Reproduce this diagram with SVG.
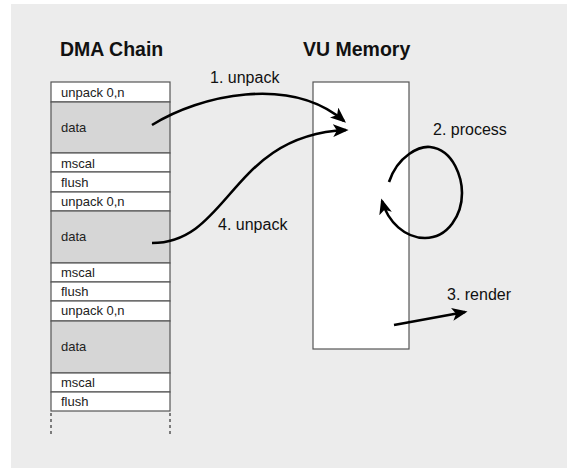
<svg xmlns="http://www.w3.org/2000/svg" width="567" height="468" viewBox="0 0 567 468">
<defs>
<style>
.cell{stroke:#555;stroke-width:1.2}
.w{fill:#fff}
.g{fill:#d6d6d6}
.ct{font-family:"Liberation Sans",Arial,sans-serif;font-size:13px;fill:#222}
.title{font-family:"Liberation Sans",Arial,sans-serif;font-size:19.5px;font-weight:bold;fill:#111}
.lbl{font-family:"Liberation Sans",Arial,sans-serif;font-size:16px;fill:#111}
.arr{fill:none;stroke:#000;stroke-width:2.6;marker-end:url(#ah)}
.dash{stroke:#555;stroke-width:1.5;stroke-dasharray:3,3}
</style>
<marker id="ah" viewBox="0 0 12 10" refX="10" refY="5" markerWidth="6" markerHeight="5" orient="auto" markerUnits="strokeWidth">
<path d="M0,0 L12,5 L0,10 L3,5 Z" fill="#000"/>
</marker>
</defs>
<rect x="0" y="0" width="567" height="468" fill="#fff"/>
<rect x="11" y="4" width="556" height="464" fill="#ececec"/>
<text class="title" x="60" y="56">DMA Chain</text>
<text class="title" x="303" y="56">VU Memory</text>
<g id="dma-chain">
<rect class="cell w" x="51" y="82" width="119" height="20"/>
<text class="ct" x="61" y="97">unpack 0,n</text>
<rect class="cell g" x="51" y="102" width="119" height="51"/>
<text class="ct" x="61" y="132">data</text>
<rect class="cell w" x="51" y="153" width="119" height="19"/>
<text class="ct" x="61" y="168">mscal</text>
<rect class="cell w" x="51" y="172" width="119" height="20"/>
<text class="ct" x="61" y="187">flush</text>
<rect class="cell w" x="51" y="192" width="119" height="19"/>
<text class="ct" x="61" y="206">unpack 0,n</text>
<rect class="cell g" x="51" y="211" width="119" height="52"/>
<text class="ct" x="61" y="241">data</text>
<rect class="cell w" x="51" y="263" width="119" height="19"/>
<text class="ct" x="61" y="277">mscal</text>
<rect class="cell w" x="51" y="282" width="119" height="19"/>
<text class="ct" x="61" y="296">flush</text>
<rect class="cell w" x="51" y="301" width="119" height="20"/>
<text class="ct" x="61" y="315">unpack 0,n</text>
<rect class="cell g" x="51" y="321" width="119" height="52"/>
<text class="ct" x="61" y="351">data</text>
<rect class="cell w" x="51" y="373" width="119" height="19"/>
<text class="ct" x="61" y="387">mscal</text>
<rect class="cell w" x="51" y="392" width="119" height="19"/>
<text class="ct" x="61" y="406">flush</text>
<line class="dash" x1="51" y1="413" x2="51" y2="434"/>
<line class="dash" x1="170" y1="413" x2="170" y2="434"/>
</g>
<g id="vu-memory">
<rect x="313" y="82" width="96" height="267" fill="#fff" stroke="#555" stroke-width="1.2"/>
</g>
<g id="connectors">
<path class="arr" d="M152,125 C200,95 290,75 344,121"/>
<path class="arr" d="M152,243 C230,243 230,135 346,130"/>
<path class="arr" d="M389,182 C398,155 420,146 430,147 C455,150 462,180 462,193 C462,215 448,238 425,238 C405,238 388,222 382,201"/>
<path class="arr" d="M394,325 L465,312"/>
</g>
<text class="lbl" x="210" y="83">1. unpack</text>
<text class="lbl" x="433" y="135">2. process</text>
<text class="lbl" x="447" y="300">3. render</text>
<text class="lbl" x="218" y="230">4. unpack</text>
</svg>
